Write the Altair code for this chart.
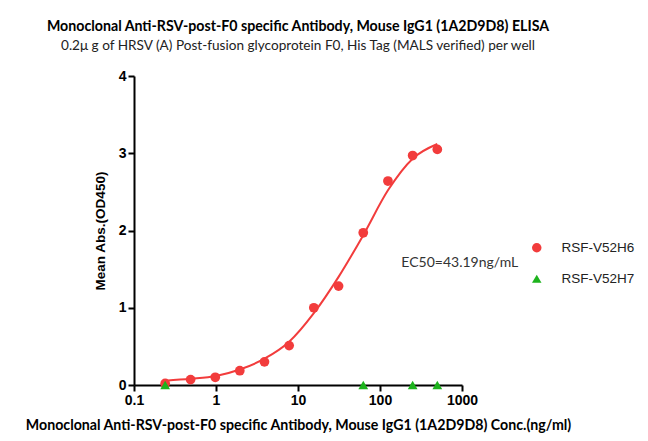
import altair as alt
import pandas as pd

conc = [0.24, 0.49, 0.98, 1.95, 3.9, 7.8, 15.6, 31.25, 62.5, 125, 250, 500]
od_h6 = [0.02, 0.07, 0.10, 0.185, 0.30, 0.51, 1.00, 1.28, 1.97, 2.64, 2.97, 3.05]

conc_h7 = [0.24, 62.5, 250, 500]
od_h7 = [0.0, 0.0, 0.0, 0.0]

curve_x = [0.24, 0.49, 1.0, 1.95, 3.9, 7.8, 15.6, 31.25, 62.5, 125, 250, 500]
curve_y = [0.056, 0.08, 0.116, 0.20, 0.34, 0.56, 0.93, 1.40, 1.94, 2.52, 2.93, 3.12]

series = ["RSF-V52H6", "RSF-V52H7"]
colors = ["#F23C3C", "#1DB31D"]
shapes = ["circle", "triangle-up"]

pts = pd.DataFrame(
    {"conc": conc + conc_h7,
     "od": od_h6 + od_h7,
     "series": [series[0]] * len(conc) + [series[1]] * len(conc_h7)}
)
curve = pd.DataFrame({"conc": curve_x, "od": curve_y})
ann = pd.DataFrame({"conc": [182], "od": [1.58], "label": ["EC50=43.19ng/mL"]})

xscale = alt.Scale(type="log", domain=[0.1, 1000])
yscale = alt.Scale(domain=[0, 4])

xaxis = alt.Axis(
    title="Monoclonal Anti-RSV-post-F0 specific Antibody, Mouse IgG1 (1A2D9D8) Conc.(ng/ml)",
    values=[0.1, 1, 10, 100, 1000], format="~g", grid=False, labelFlush=False,
    labelFont="Liberation Sans", labelFontSize=14, labelFontWeight="bold", labelColor="black",
    titleFont="Lato", titleFontSize=14.2, titleFontWeight="bold", titleColor="black",
    titlePadding=11, domainColor="black", domainWidth=2, tickColor="black", tickWidth=2,
    tickSize=6, labelPadding=2,
)
yaxis = alt.Axis(
    title="Mean Abs.(OD450)", values=[0, 1, 2, 3, 4], format="d", grid=False, labelFlush=False,
    labelFont="Liberation Sans", labelFontSize=14, labelFontWeight="bold", labelColor="black",
    titleFont="Liberation Sans", titleFontSize=13.5, titleFontWeight="bold", titleColor="black",
    titlePadding=11, domainColor="black", domainWidth=2, tickColor="black", tickWidth=2,
    tickSize=6, labelPadding=2,
)

line = alt.Chart(curve).mark_line(color=colors[0], strokeWidth=2, interpolate="monotone").encode(
    x=alt.X("conc:Q", scale=xscale, axis=xaxis),
    y=alt.Y("od:Q", scale=yscale, axis=yaxis),
)

points = alt.Chart(pts).mark_point(filled=True, size=95, opacity=1).encode(
    x=alt.X("conc:Q", scale=xscale),
    y=alt.Y("od:Q", scale=yscale),
    color=alt.Color("series:N", scale=alt.Scale(domain=series, range=colors),
                    legend=alt.Legend(title=None, orient="none", legendX=396, legendY=165,
                                      labelFont="Liberation Sans", labelFontSize=13.5,
                                      labelColor="#222", rowPadding=16, symbolSize=90,
                                      labelOffset=18)),
    shape=alt.Shape("series:N", scale=alt.Scale(domain=series, range=shapes)),
)

text = alt.Chart(ann).mark_text(align="left", baseline="middle", font="Lato",
                                fontSize=14, color="#333").encode(
    x=alt.X("conc:Q", scale=xscale),
    y=alt.Y("od:Q", scale=yscale),
    text="label:N",
)

chart = alt.layer(line, points, text).properties(
    width=328, height=309,
    title=alt.TitleParams(
        text="Monoclonal Anti-RSV-post-F0 specific Antibody, Mouse IgG1 (1A2D9D8) ELISA",
        subtitle="0.2μ g of HRSV (A) Post-fusion glycoprotein F0, His Tag (MALS verified) per well",
        font="Lato", fontSize=14.2, fontWeight="bold", color="black",
        subtitleFont="Lato", subtitleFontSize=13.6, subtitleColor="#222", subtitlePadding=5,
        anchor="middle", offset=16,
    ),
    autosize=alt.AutoSizeParams(type="none"),
    padding={"left": 126, "top": 68, "right": 178, "bottom": 48},
).configure_view(stroke=None)

chart.save("out.html", embed_options={"renderer": "svg", "actions": False})
